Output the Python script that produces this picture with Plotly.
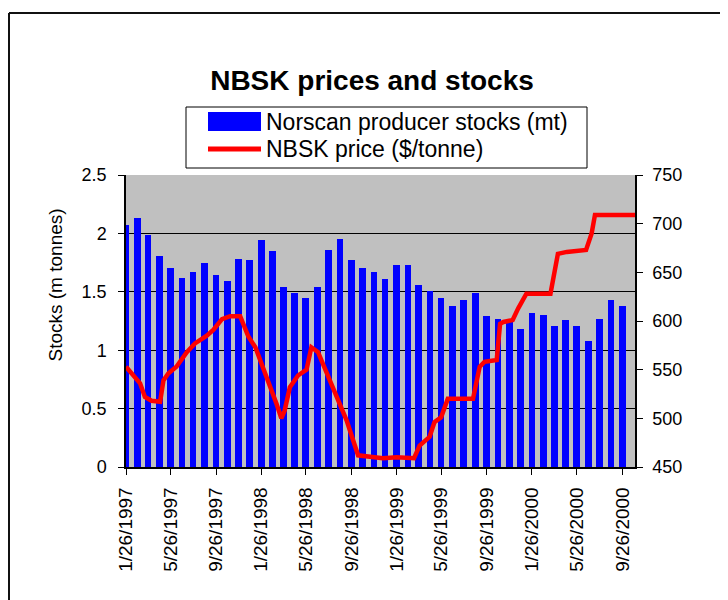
import plotly.graph_objects as go

# ---------------- data ----------------
n_bars = 45
bar_dates = [f"{1997 + i // 12}-{i % 12 + 1:02d}-26" for i in range(n_bars)]
stocks = [2.07, 2.13, 1.99, 1.81, 1.70, 1.62, 1.67, 1.75, 1.64, 1.59,
          1.78, 1.77, 1.94, 1.85, 1.54, 1.49, 1.45, 1.54, 1.86, 1.95,
          1.77, 1.70, 1.67, 1.61, 1.73, 1.73, 1.56, 1.51, 1.45, 1.38,
          1.43, 1.49, 1.29, 1.27, 1.24, 1.18, 1.32, 1.30, 1.21, 1.26,
          1.21, 1.08, 1.27, 1.43, 1.38]

price_dates = ["1997-01-26", "1997-02-16", "1997-03-05", "1997-03-18", "1997-04-05",
               "1997-04-28", "1997-05-07", "1997-05-20", "1997-06-11", "1997-07-09",
               "1997-07-31", "1997-09-01", "1997-09-19", "1997-10-12", "1997-11-03",
               "1997-11-30", "1997-12-22", "1998-01-10", "1998-02-10", "1998-03-08",
               "1998-03-21", "1998-03-30", "1998-04-13", "1998-05-05", "1998-05-28",
               "1998-06-10", "1998-06-28", "1998-07-20", "1998-08-16", "1998-09-13",
               "1998-10-14", "1998-12-11", "1998-12-20", "1999-01-26", "1999-03-14",
               "1999-03-29", "1999-04-25", "1999-05-08", "1999-05-26", "1999-06-13",
               "1999-08-20", "1999-09-07", "1999-09-20", "1999-10-23", "1999-11-01",
               "1999-11-10", "1999-12-05", "1999-12-20", "2000-01-11", "2000-03-16",
               "2000-03-25", "2000-04-05", "2000-04-29", "2000-06-20", "2000-07-05",
               "2000-07-14", "2000-10-30"]
prices = [553, 544, 536, 522, 518,
          517, 539, 546, 553, 568,
          577, 585, 591, 602, 605,
          605, 584, 573, 543, 515,
          500, 508, 532, 544, 550,
          573, 568, 548, 525, 498,
          462, 460, 459, 460, 459,
          472, 481, 496, 501, 520,
          520, 553, 558, 560, 597,
          599, 601, 613, 628, 628,
          649, 669, 671, 673, 690,
          709, 709]

tick_idx = list(range(0, n_bars, 4))
tick_vals = [bar_dates[i] for i in tick_idx]
tick_text = [f"{int(d[5:7])}/{int(d[8:10])}/{d[:4]}" for d in tick_vals]

title_text = "NBSK prices and stocks"
bar_name = "Norscan producer stocks (mt)"
line_name = "NBSK price ($/tonne)"
y_title = "Stocks (m tonnes)"

# ---------------- layout helpers ----------------
OFF = 8                      # page offset of the figure div (body margin)
W, H = 720, 592
L, R, T, B = 118, 93, 167, 133
PW, PH = W - L - R, H - T - B
def px(x):                   # page pixel x -> paper x
    return (x - OFF - L) / PW
def py(y):                   # page pixel y -> paper y
    return (H - B - (y - OFF)) / PH

FONT = "Arial, Liberation Sans, sans-serif"

fig = go.Figure()
fig.add_trace(go.Bar(
    x=bar_dates, y=stocks, name=bar_name,
    marker=dict(color="#0000FF", line=dict(width=0)),
    width=18 * 86400000, showlegend=False,
))
fig.add_trace(go.Scatter(
    x=price_dates, y=prices, name=line_name, yaxis="y2", mode="lines",
    line=dict(color="#FF0000", width=4.5), showlegend=False,
))

shapes = [
    # outer frame
    dict(type="line", xref="paper", yref="paper", x0=px(9), x1=px(740), y0=py(13), y1=py(13),
         line=dict(color="#111111", width=2)),
    dict(type="line", xref="paper", yref="paper", x0=px(9), x1=px(9), y0=py(13), y1=py(610),
         line=dict(color="#111111", width=2)),
    # legend box
    dict(type="rect", xref="paper", yref="paper", x0=px(186), x1=px(587), y0=py(168), y1=py(107),
         line=dict(color="#000000", width=1), fillcolor="#FFFFFF"),
    dict(type="rect", xref="paper", yref="paper", x0=px(208), x1=px(261), y0=py(131), y1=py(112),
         line=dict(width=0), fillcolor="#0000FF"),
    dict(type="line", xref="paper", yref="paper", x0=px(208), x1=px(261), y0=py(149), y1=py(149),
         line=dict(color="#FF0000", width=5)),
]

annotations = [
    dict(text=bar_name, xref="paper", yref="paper", x=px(264), y=py(121.5), xanchor="left",
         yanchor="middle", showarrow=False, font=dict(family=FONT, size=23, color="#000000")),
    dict(text=line_name, xref="paper", yref="paper", x=px(264), y=py(149), xanchor="left",
         yanchor="middle", showarrow=False, font=dict(family=FONT, size=23, color="#000000")),
    dict(text=y_title, xref="paper", yref="paper", x=px(54.5), y=py(285), xanchor="center",
         yanchor="middle", textangle=-90, showarrow=False,
         font=dict(family=FONT, size=19, color="#000000")),
]

fig.update_layout(
    width=W, height=H,
    margin=dict(l=L, r=R, t=T, b=B, pad=0, autoexpand=False),
    paper_bgcolor="#FFFFFF", plot_bgcolor="#C0C0C0",
    title=dict(text=f"<b>{title_text}</b>", x=(372 - OFF) / W, xanchor="center",
               y=1 - (80 - OFF) / H, yanchor="middle", automargin=False,
               font=dict(family=FONT, size=28, color="#000000")),
    bargap=0,
    shapes=shapes, annotations=annotations,
    xaxis=dict(type="date", range=["1997-01-26", "2000-10-30"], automargin=False,
               tickmode="array", tickvals=tick_vals, ticktext=tick_text, tickangle=-90,
               ticks="outside", ticklen=6, tickcolor="#000000", ticklabelstandoff=5,
               showline=True, linecolor="#000000", linewidth=1.5, showgrid=False,
               zeroline=False, tickfont=dict(family=FONT, size=19, color="#000000")),
    yaxis=dict(range=[0, 2.5], dtick=0.5, ticks="outside", ticklen=6, automargin=False,
               tickcolor="#000000", showline=True, linecolor="#000000", linewidth=1.5,
               showgrid=True, gridcolor="#000000", gridwidth=1, zeroline=False,
               ticklabelstandoff=8,
               tickfont=dict(family=FONT, size=18, color="#000000")),
    yaxis2=dict(range=[450, 750], dtick=50, overlaying="y", side="right", ticks="outside",
                ticklen=6, tickcolor="#000000", showline=True, linecolor="#000000",
                automargin=False,
                linewidth=1.5, showgrid=False, zeroline=False, ticklabelstandoff=6,
                tickfont=dict(family=FONT, size=18, color="#000000")),
)

fig.write_html("out.html")
